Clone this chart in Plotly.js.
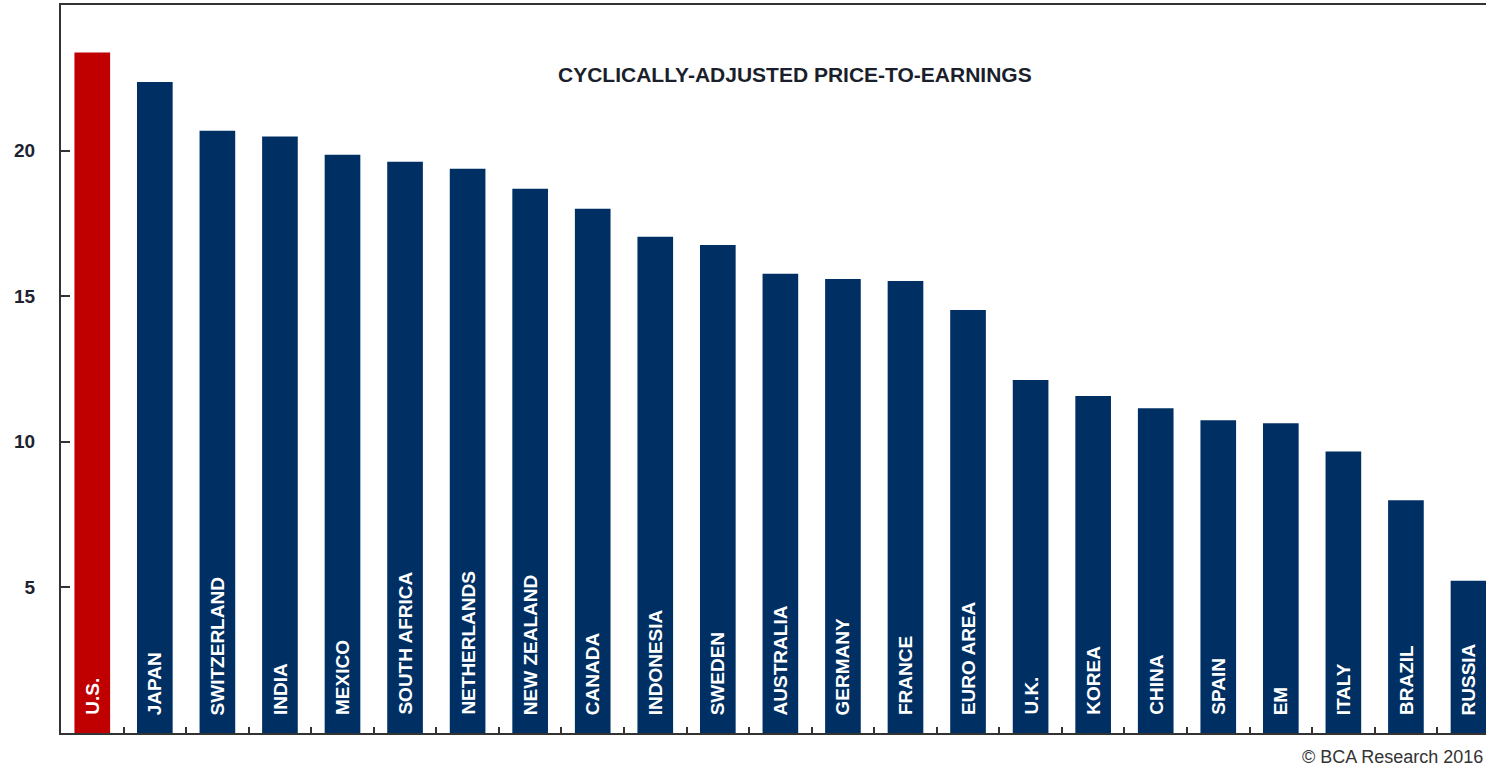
<!DOCTYPE html>
<html>
<head>
<meta charset="utf-8">
<script src="https://cdn.plot.ly/plotly-3.0.1.min.js"></script>
<style>
  html, body { margin: 0; padding: 0; background: #fff; overflow: hidden; }
  #chart { width: 1486px; height: 768px; }
</style>
</head>
<body>
<div id="chart"></div>
<script>
// Data
const categories = ["U.S.", "JAPAN", "SWITZERLAND", "INDIA", "MEXICO", "SOUTH AFRICA", "NETHERLANDS",
  "NEW ZEALAND", "CANADA", "INDONESIA", "SWEDEN", "AUSTRALIA", "GERMANY", "FRANCE", "EURO AREA",
  "U.K.", "KOREA", "CHINA", "SPAIN", "EM", "ITALY", "BRAZIL", "RUSSIA"];
const capeValues = [23.37, 22.36, 20.68, 20.48, 19.86, 19.62, 19.38, 18.69, 18.0, 17.04, 16.76,
  15.77, 15.59, 15.52, 14.53, 12.12, 11.57, 11.15, 10.74, 10.64, 9.67, 7.99, 5.23];
const highlighted = ["U.S."];
const yTickValues = [5, 10, 15, 20];
const chartTitle = "CYCLICALLY-ADJUSTED PRICE-TO-EARNINGS";
const sourceNote = "© BCA Research 2016";

const RED = "#C00000";
const NAVY = "#003063";
const barColors = categories.map(c => highlighted.includes(c) ? RED : NAVY);

const trace = {
  type: "bar",
  x: categories,
  y: capeValues,
  marker: { color: barColors, line: { width: 0 } },
  width: 0.57,
  hoverinfo: "x+y"
};

const labelAnnotations = categories.map(c => ({
  x: c, y: 0, xref: "x", yref: "y",
  text: c, showarrow: false, textangle: -90,
  xanchor: "center", yanchor: "bottom", yshift: 17, borderpad: 0,
  font: { family: "Liberation Sans, Arial, sans-serif", size: 19, color: "#ffffff", weight: "bold" }
}));

const layout = {
  width: 1486, height: 768,
  margin: { l: 61, r: 0, t: 5, b: 35, pad: 0 },
  paper_bgcolor: "#ffffff", plot_bgcolor: "#ffffff",
  showlegend: false,
  bargap: 0.43,
  xaxis: {
    type: "category",
    range: [-0.5, 22.28],
    tickson: "boundaries",
    ticks: "inside", ticklen: 6, tickwidth: 2, tickcolor: "#333",
    showticklabels: false,
    showline: true, linewidth: 2, linecolor: "#333", mirror: true,
    showgrid: false, zeroline: false, fixedrange: true
  },
  yaxis: {
    range: [0, 25],
    tickmode: "array", tickvals: yTickValues,
    ticktext: yTickValues.map(String),
    ticks: "inside", ticklen: 9, tickwidth: 2, tickcolor: "#333",
    ticklabelstandoff: 20,
    tickfont: { family: "Liberation Sans, Arial, sans-serif", size: 19, color: "#1e2330", weight: "bold" },
    showline: true, linewidth: 2, linecolor: "#333",
    showgrid: false, zeroline: false, fixedrange: true
  },
  annotations: [
    {
      xref: "paper", yref: "paper", x: 0.515, y: 0.904,
      xanchor: "center", yanchor: "middle", showarrow: false,
      text: chartTitle,
      font: { family: "Liberation Sans, Arial, sans-serif", size: 21, color: "#1a1f2b", weight: "bold" }
    },
    {
      xref: "paper", yref: "paper", x: 1, y: -0.033, xshift: -2,
      xanchor: "right", yanchor: "middle", showarrow: false,
      text: sourceNote, borderpad: 0,
      font: { family: "Liberation Sans, Arial, sans-serif", size: 18, color: "#333333" }
    }
  ].concat(labelAnnotations)
};

Plotly.newPlot("chart", [trace], layout, { displayModeBar: false, staticPlot: true });
</script>
</body>
</html>
